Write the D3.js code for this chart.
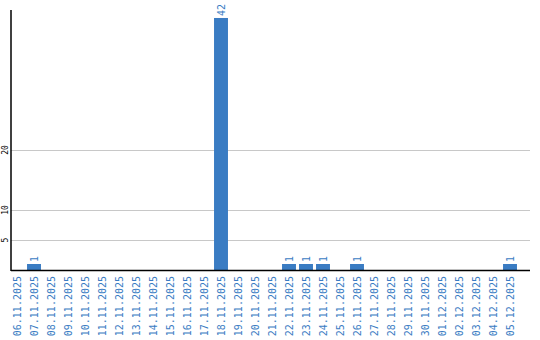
<!DOCTYPE html>
<html>
<head>
<meta charset="utf-8">
<script src="https://cdn.jsdelivr.net/npm/d3@7"></script>
<style>
  body { margin: 0; background: #fff; }
  svg { display: block; }
</style>
</head>
<body>
<svg id="chart-area"></svg>
<script>
const dates = ["06.11.2025", "07.11.2025", "08.11.2025", "09.11.2025", "10.11.2025",
    "11.11.2025", "12.11.2025", "13.11.2025", "14.11.2025", "15.11.2025",
    "16.11.2025", "17.11.2025", "18.11.2025", "19.11.2025", "20.11.2025",
    "21.11.2025", "22.11.2025", "23.11.2025", "24.11.2025", "25.11.2025",
    "26.11.2025", "27.11.2025", "28.11.2025", "29.11.2025", "30.11.2025",
    "01.12.2025", "02.12.2025", "03.12.2025", "04.12.2025", "05.12.2025"]
const counts = [0, 1, 0, 0, 0, 0, 0, 0, 0, 0, 0, 0, 42, 0, 0, 0, 1, 1, 1, 0, 1, 0, 0, 0, 0, 0, 0, 0, 0, 1]
const yTicks = [5, 10, 20]

function drawBars() {
    const width = 540
    const height = 340
    const left = 11
    const right = 530
    const bottom = 270
    const top = 10

    const svg = d3.select("#chart-area")
        .attr("width", width)
        .attr("height", height)

    const data = dates.map((d, i) => ({ date: d, value: counts[i] }))

    const x = d3.scaleBand()
        .domain(dates)
        .range([8.5, 518.5])
        .paddingInner(0.18)
        .paddingOuter(0.09)

    const y = d3.scaleLinear()
        .domain([0, 43.33])
        .range([bottom, top])

    // grid lines
    svg.selectAll(".grid")
        .data(yTicks)
        .enter().append("line")
        .attr("x1", left)
        .attr("x2", right)
        .attr("y1", d => Math.round(y(d)) + 0.5)
        .attr("y2", d => Math.round(y(d)) + 0.5)
        .attr("stroke", "#c8c8c8")
        .attr("stroke-width", 1)

    // y tick labels, rotated
    svg.selectAll(".ytick")
        .data(yTicks)
        .enter().append("text")
        .attr("transform", d => `translate(8,${y(d)}) rotate(-90)`)
        .attr("text-anchor", "middle")
        .attr("font-family", "DejaVu Sans Mono")
        .attr("font-size", 8)
        .attr("fill", "#000")
        .text(d => d)

    // bars
    const bars = data.filter(d => d.value > 0)
    svg.selectAll(".bar")
        .data(bars)
        .enter().append("rect")
        .attr("x", d => x(d.date))
        .attr("y", d => y(d.value))
        .attr("width", x.bandwidth())
        .attr("height", d => bottom - y(d.value))
        .attr("fill", "#3a7cc3")

    // value labels
    svg.selectAll(".val")
        .data(bars)
        .enter().append("text")
        .attr("transform", d => `translate(${x(d.date) + x.bandwidth() / 2 + 3.5},${y(d.value) - 2}) rotate(-90)`)
        .attr("text-anchor", "start")
        .attr("font-family", "DejaVu Sans Mono")
        .attr("font-size", 10)
        .attr("fill", "#3a7cc3")
        .text(d => d.value)

    // axes lines
    svg.append("line")
        .attr("x1", left).attr("x2", left)
        .attr("y1", top).attr("y2", bottom + 1)
        .attr("stroke", "#000").attr("stroke-width", 1.5)
    svg.append("line")
        .attr("x1", left).attr("x2", right)
        .attr("y1", bottom + 0.5).attr("y2", bottom + 0.5)
        .attr("stroke", "#000").attr("stroke-width", 1.5)

    // x labels
    svg.selectAll(".xlab")
        .data(dates)
        .enter().append("text")
        .attr("transform", d => `translate(${x(d) + x.bandwidth() / 2 + 3.5},${bottom + 6}) rotate(-90)`)
        .attr("text-anchor", "end")
        .attr("font-family", "DejaVu Sans Mono")
        .attr("font-size", 10)
        .attr("fill", "#3a7cc3")
        .text(d => d)
}

drawBars()
</script>
</body>
</html>
